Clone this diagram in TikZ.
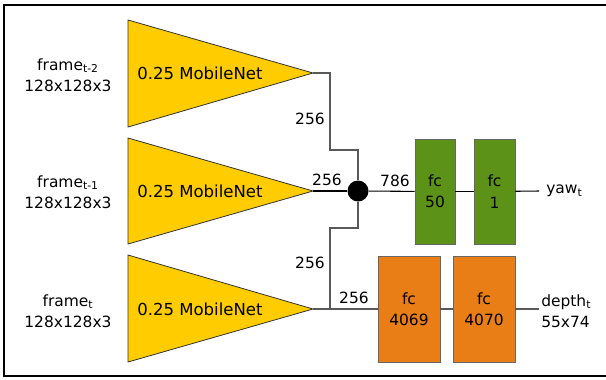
\documentclass[tikz,border=0pt]{standalone}
\usepackage{fontspec}
\setmainfont{DejaVu Sans}
\begin{document}
\begin{tikzpicture}[x=0.75pt,y=-0.75pt,
  lbl/.style={font=\fontsize{11.6}{16}\selectfont, inner sep=0pt, align=center},
  tri/.style={draw=black!80, line width=0.6pt},
  fcbox/.style={draw=black!60, line width=0.6pt, minimum width=#1*0.75pt, minimum height=105*0.75pt, inner sep=0pt, align=center, font=\fontsize{11.6}{16}\selectfont},
  conn/.style={draw=black!65, line width=0.8pt},
  mconn/.style={draw=black, line width=0.8pt}]
\definecolor{gold}{RGB}{255,204,0}
\definecolor{fcgreen}{RGB}{91,146,23}
\definecolor{fcorange}{RGB}{232,126,21}
\useasboundingbox (0,0) rectangle (606,379);
% frame
\draw[line width=1.1pt] (608,5) -- (4,5) -- (4,376) -- (608,376);
% triangles
\coordinate (a1) at (313,73);
\coordinate (a2) at (313,191);
\coordinate (a3) at (313,309);
\draw[tri, fill=gold] (128,20) -- (a1) -- (128,127) -- cycle;
\draw[tri, fill=gold] (128,138) -- (a2) -- (128,244) -- cycle;
\draw[tri, fill=gold] (128,255) -- (a3) -- (128,362) -- cycle;
\node[lbl, anchor=west, font=\fontsize{12.4}{15}\selectfont] (m1) at (137,73) {0.25 MobileNet};
\node[lbl, anchor=west, font=\fontsize{12.4}{15}\selectfont] (m2) at (137,191) {0.25 MobileNet};
\node[lbl, anchor=west, font=\fontsize{12.4}{15}\selectfont] (m3) at (137,309) {0.25 MobileNet};
% left labels
\node[lbl] (f1) at (68,75) {frame\textsubscript{t-2}\\128x128x3};
\node[lbl] (f2) at (68,192) {frame\textsubscript{t-1}\\128x128x3};
\node[lbl] (f3) at (68,311) {frame\textsubscript{t}\\128x128x3};
% concat dot
\node[circle, fill=black, minimum size=21*0.75pt, inner sep=0pt] (dot) at (358,191) {};
% fc boxes
\node[fcbox=40, fill=fcgreen] (fc50) at (435,191.5) {fc\\50};
\node[fcbox=41, fill=fcgreen] (fc1) at (494.5,191.5) {fc\\1};
\node[fcbox=62, fill=fcorange, minimum height=106*0.75pt] (fc4069) at (409,309) {fc\\4069};
\node[fcbox=62, fill=fcorange, minimum height=106*0.75pt] (fc4070) at (484,309) {fc\\4070};
% outputs
\coordinate (yawend) at (539,191);
\coordinate (depend) at (539,309);
\node[lbl, anchor=west] (yaw) at (546,191) {yaw\textsubscript{t}};
\node[lbl, anchor=west, align=left] (depth) at (541,311) {depth\textsubscript{t}\\55x74};
% connectors
\coordinate (j1) at (330,309);
\draw[conn] (a1) -- (330,73) -- (330,150) -- (358,150) -- (dot);
\draw[conn] (j1) -- (330,228) -- (358,228) -- (dot);
\draw[mconn] (a2) -- (dot);
\draw[mconn] (dot) -- (fc50);
\draw[mconn] (fc50) -- (fc1);
\draw[mconn] (fc1) -- (yawend);
\draw[conn] (a3) -- (fc4069);
\draw[conn] (fc4069) -- (fc4070);
\draw[conn] (fc4070) -- (depend);
% size labels
\node[lbl] (l1) at (310,119) {256};
\node[lbl] (l2) at (327,180) {256};
\node[lbl] (l3) at (395,181) {786};
\node[lbl] (l4) at (310,263) {256};
\node[lbl] (l5) at (354,298) {256};
\end{tikzpicture}
\end{document}
